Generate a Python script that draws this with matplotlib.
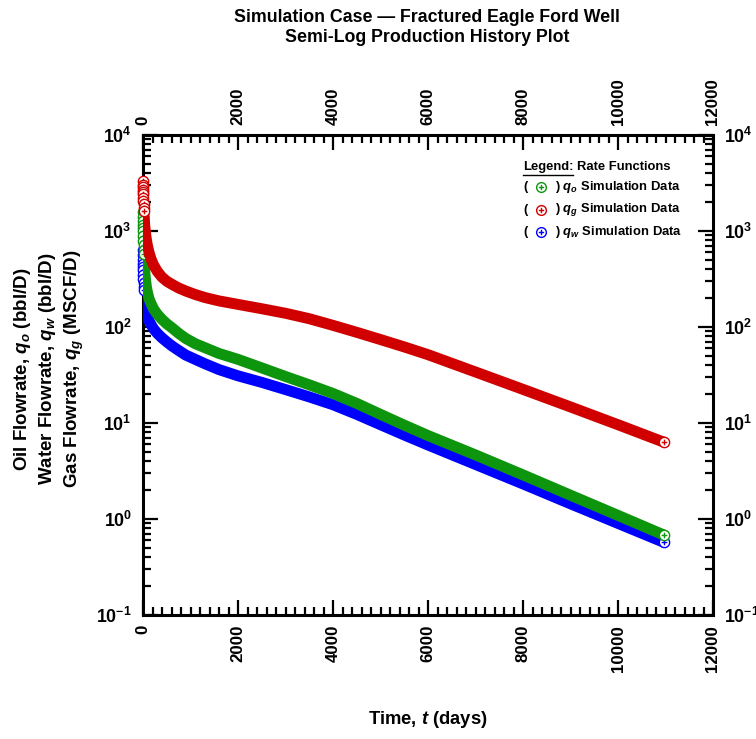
import numpy as np
import matplotlib
matplotlib.use('Agg')
import matplotlib.pyplot as plt
from matplotlib.path import Path
from matplotlib.ticker import FixedLocator, MultipleLocator, LogLocator, NullFormatter
from matplotlib.lines import Line2D

# ---------------- data ----------------
t_days = [1, 2, 3, 4, 5, 6, 8, 10, 12, 15, 18, 22, 26, 30, 35, 40, 50, 60, 70, 85,
          100, 130, 170, 220, 300, 400, 500, 600, 750, 900, 1100, 1300, 1600, 2000,
          2500, 3000, 3500, 4000, 4500, 5000, 5500, 6000, 7000, 8000, 9000, 10000, 10970]

q_gas = [3300, 3050, 2850, 2700, 2550, 2420, 2220, 2050, 1900, 1750, 1620, 1480, 1370, 1280,
         1180, 1100, 980, 890, 820, 740, 680, 590, 510, 445, 380, 330, 300, 280, 255, 237,
         218, 203, 187, 172, 155, 139, 122, 104, 88, 74, 62, 51.5, 34, 22.4, 14.7, 9.6, 6.3]

q_oil = [1580, 1400, 1270, 1160, 1070, 1000, 880, 790, 720, 640, 580, 520, 470, 430,
         395, 365, 320, 290, 265, 240, 222, 195, 175, 155, 136, 120, 108, 99, 86, 76,
         67, 61, 53, 46, 37.5, 30.5, 25, 20.3, 16, 12.3, 9.5, 7.4, 4.65, 2.88, 1.77, 1.09, 0.68]

q_water = [640, 560, 500, 455, 420, 392, 348, 315, 290, 262, 240, 218, 202, 190,
           178, 168, 155, 146, 139, 131, 125, 115, 106, 96, 86, 77, 70, 64, 57, 51,
           46, 41.5, 36, 31, 26.5, 22.3, 18.7, 15.5, 12.3, 9.6, 7.5, 5.9, 3.7, 2.32, 1.44, 0.9, 0.57]

x_ticks = [0, 2000, 4000, 6000, 8000, 10000, 12000]
x_tick_labels = ['0', '2000', '4000', '6000', '8000', '10000', '12000']
y_ticks = [0.1, 1, 10, 100, 1000, 10000]
y_tick_labels = [r'$\mathbf{10^{-1}}$', r'$\mathbf{10^{0}}$', r'$\mathbf{10^{1}}$',
                 r'$\mathbf{10^{2}}$', r'$\mathbf{10^{3}}$', r'$\mathbf{10^{4}}$']

legend_symbols = [r'$q_o$', r'$q_g$', r'$q_w$']
legend_suffix = ' Simulation Data'

c_oil = '#0d960d'
c_gas = '#d00000'
c_water = '#0000ff'

# ---------------- style ----------------
plt.rcParams.update({
    'font.family': ['Liberation Sans', 'DejaVu Sans'],
    'font.weight': 'bold',
    'mathtext.fontset': 'custom',
    'mathtext.rm': 'Liberation Sans:bold',
    'mathtext.it': 'Liberation Sans:italic:bold',
    'mathtext.bf': 'Liberation Sans:bold',
})

W, H = 756, 739
fig = plt.figure(figsize=(W / 100, H / 100), dpi=100)
ax = fig.add_axes([143 / W, 1 - 615 / H, 570 / W, 480 / H])

# marker: circle with a plus inside
circle = Path.unit_circle()
plus = Path([(-0.55, 0), (0.55, 0), (0, -0.55), (0, 0.55)],
            [Path.MOVETO, Path.LINETO, Path.MOVETO, Path.LINETO])
mk = Path.make_compound_path(circle, plus)

t_arr = np.array(t_days, dtype=float)
n_stack = sum(1 for v in t_days if v <= 20)

series = [(q_water, c_water, 3.0), (q_oil, c_oil, 3.2), (q_gas, c_gas, 3.4)]
for q, c, z in series:
    q = np.array(q, dtype=float)
    ax.plot(t_arr, q, '-', color=c, lw=7.9, solid_capstyle='round',
            solid_joinstyle='round', zorder=z)
    idx = list(range(n_stack)) + [len(t_arr) - 1]
    ax.plot(t_arr[idx], q[idx], ls='none', marker=mk, ms=7.4, mfc='white',
            mec=c, mew=1.0, zorder=z + 0.1, clip_on=False)

ax.set_xlim(0, 12000)
ax.set_yscale('log')
ax.set_ylim(0.1, 1e4)

ax.xaxis.set_major_locator(FixedLocator(x_ticks))
ax.set_xticklabels(x_tick_labels)
ax.xaxis.set_minor_locator(MultipleLocator(200))
ax.yaxis.set_major_locator(FixedLocator(y_ticks))
ax.set_yticklabels(y_tick_labels)
ax.yaxis.set_minor_locator(LogLocator(base=10, subs=np.arange(2, 10) * 1.0, numticks=20))
ax.yaxis.set_minor_formatter(NullFormatter())

ax.tick_params(which='both', direction='in', top=True, right=True,
               labeltop=True, labelright=True, width=1.6, colors='black')
ax.tick_params(which='major', length=11)
ax.tick_params(which='minor', length=6)
ax.tick_params(axis='x', labelrotation=90, labelsize=12.2, pad=7)
ax.tick_params(axis='y', labelsize=12.8, pad=8)
for lab in ax.get_xticklabels() + ax.get_yticklabels():
    lab.set_fontweight('bold')
for sp in ax.spines.values():
    sp.set_linewidth(2.2)

# ---------------- titles and labels ----------------
fig.text(427 / W, 1 - 17 / H, 'Simulation Case \u2014 Fractured Eagle Ford Well',
         ha='center', va='center', fontsize=12.8, fontweight='bold')
fig.text(427 / W, 1 - 37 / H, 'Semi-Log Production History Plot',
         ha='center', va='center', fontsize=12.8, fontweight='bold')
fig.text(428 / W, 1 - 720 / H, r'Time, $t$ (days)', ha='center', va='center',
         fontsize=13.2, fontweight='bold')
fig.text(49 / W, 1 - 369 / H,
         'Oil Flowrate, $q_o$ (bbl/D)\nWater Flowrate, $q_w$ (bbl/D)\nGas Flowrate, $q_g$ (MSCF/D)',
         rotation=90, ha='center', va='center', multialignment='center',
         fontsize=13.5, fontweight='bold', linespacing=1.32)

# ---------------- legend (manual) ----------------
fs_leg = 9.4
fig.text(523 / W, 1 - 167 / H, 'Legend:', ha='left', va='center', fontsize=fs_leg,
         fontweight='bold')
fig.text(577 / W, 1 - 167 / H, 'Rate Functions', ha='left', va='center', fontsize=fs_leg,
         fontweight='bold')
fig.add_artist(Line2D([523 / W, 573 / W], [1 - 174.5 / H, 1 - 174.5 / H],
                      color='black', lw=1.0, transform=fig.transFigure))
leg_rows = [(legend_symbols[0], c_oil, 187), (legend_symbols[1], c_gas, 210),
            (legend_symbols[2], c_water, 232)]
for sym, c, yy in leg_rows:
    fy = 1 - yy / H
    fig.text(523 / W, fy, '(', ha='left', va='center', fontsize=fs_leg, fontweight='bold')
    fig.add_artist(Line2D([541 / W], [fy], ls='none', marker=mk, ms=7.0, mfc='white',
                          mec=c, mew=1.0, transform=fig.transFigure))
    fig.text(555 / W, fy, ') ' + sym + legend_suffix, ha='left', va='center',
             fontsize=fs_leg, fontweight='bold')

fig.savefig('out.png', dpi=100)
